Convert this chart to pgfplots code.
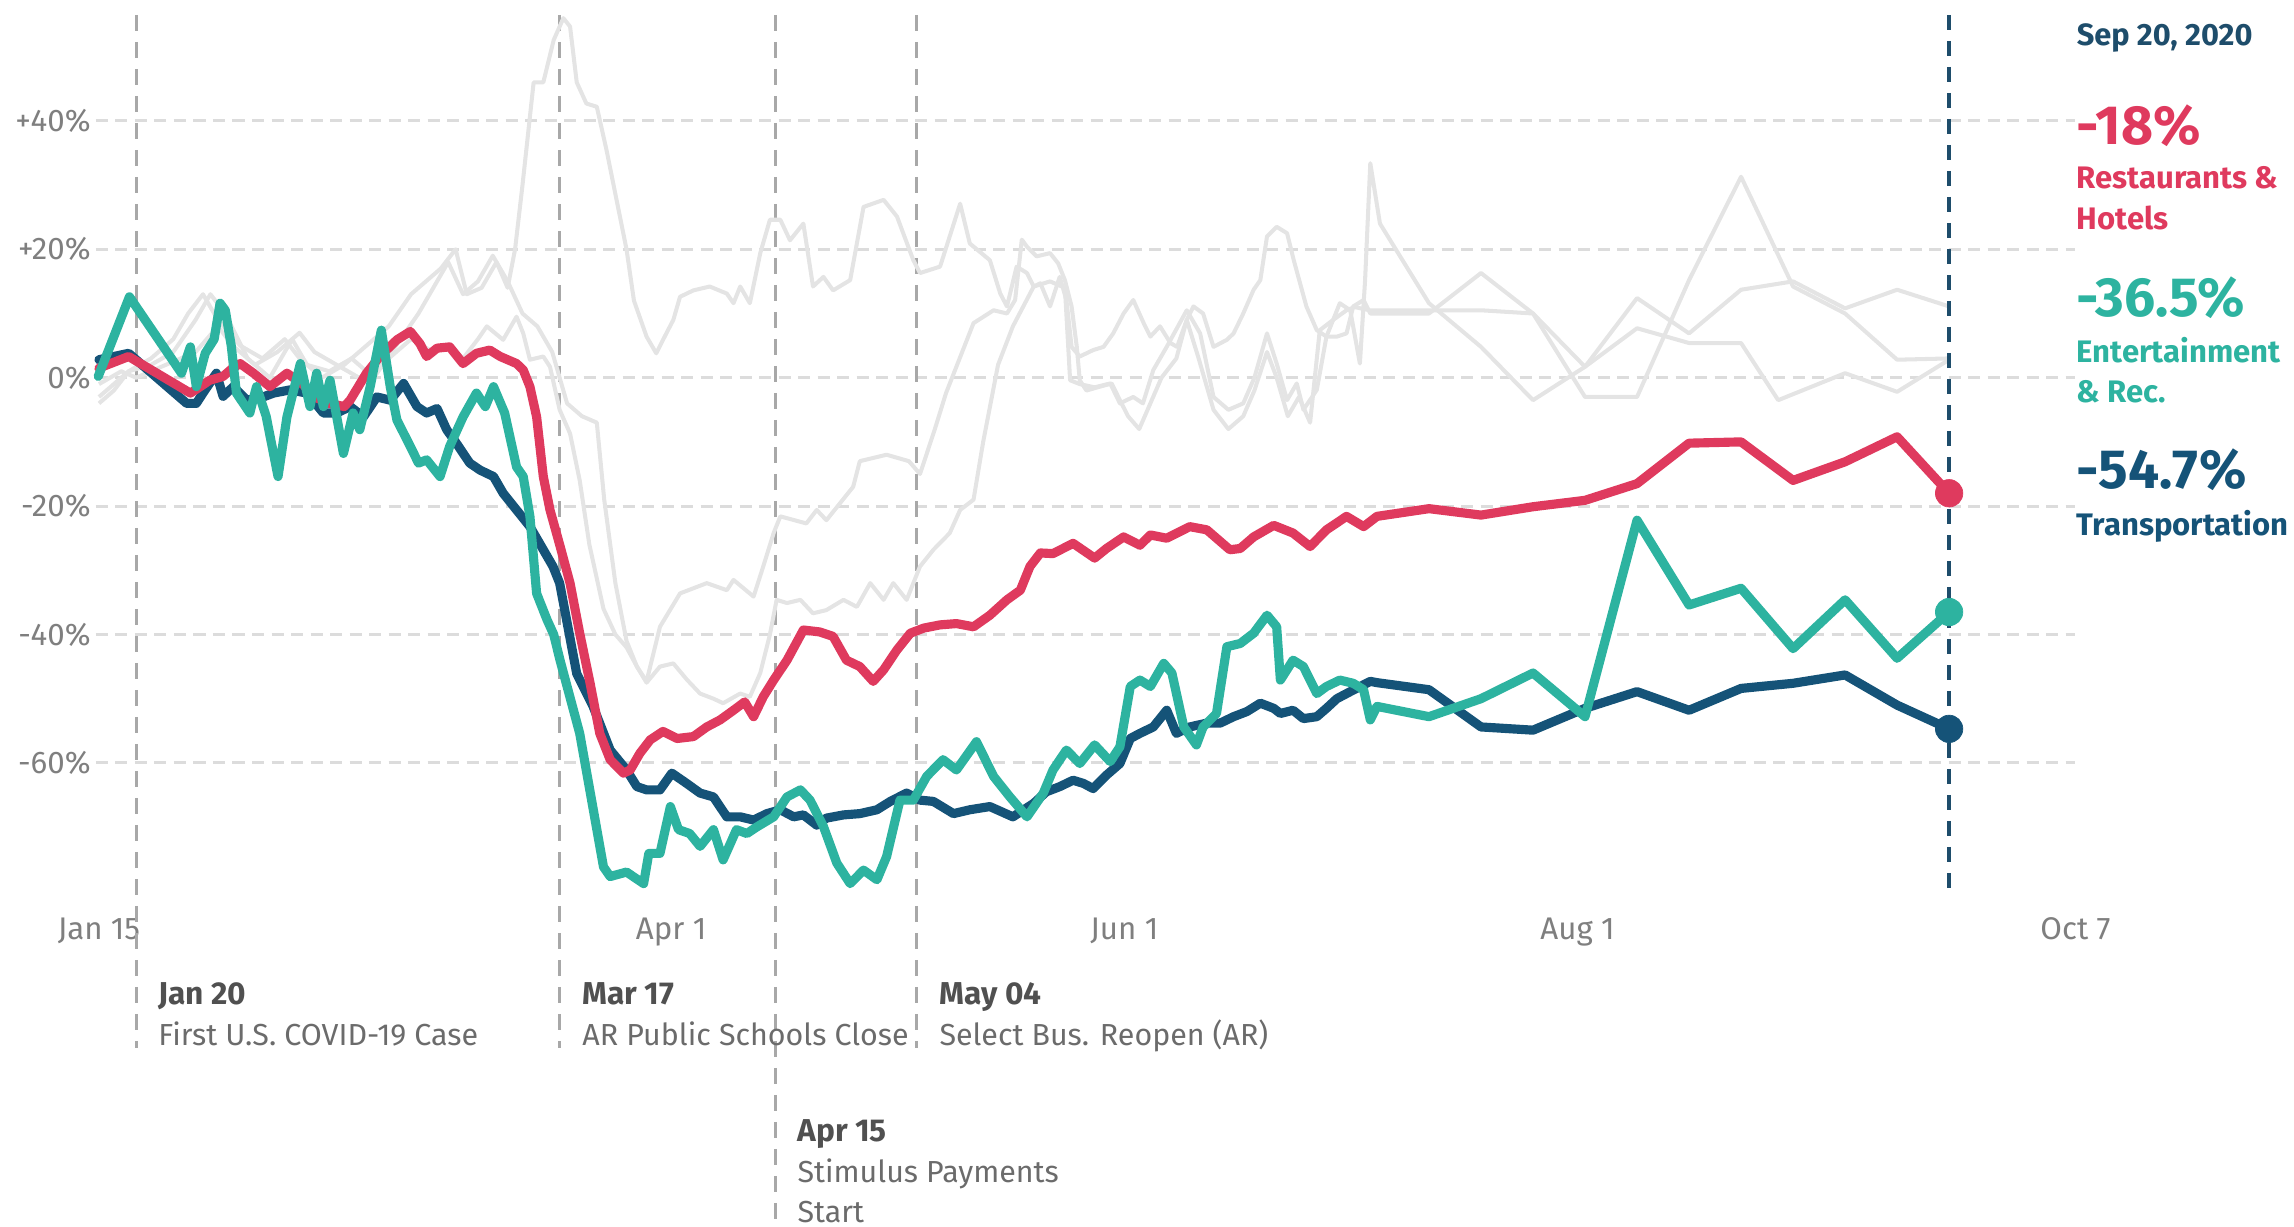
\documentclass[border=0pt]{standalone}
\usepackage{fontspec}
\setmainfont{Fira Sans}
\usepackage{pgfplots}
\pgfplotsset{compat=1.18}
\definecolor{cred}{HTML}{DF3A5E}
\definecolor{cteal}{HTML}{2DB3A0}
\definecolor{cblue}{HTML}{155378}
\definecolor{cgray}{HTML}{E4E4E4}
\definecolor{gridc}{HTML}{DCDCDC}
\definecolor{evc}{HTML}{A8A8A8}
\definecolor{sepc}{HTML}{1E4D6B}
\definecolor{tickc}{HTML}{7F7F7F}
\definecolor{annb}{HTML}{505050}
\definecolor{annt}{HTML}{6B6B6B}
\begin{document}
\begin{tikzpicture}
\path[use as bounding box] (0,0) rectangle (45.88cm,-24.54cm);
\begin{axis}[
  at={(1.92cm,-17.826cm)}, anchor=south west,
  x=0.1486cm, y=0.1284cm,
  xmin=14.6, xmax=281, ymin=-80, ymax=56.5,
  clip=false,
  axis line style={draw=none},
  tick style={draw=none},
  major tick length=0pt,
  xtick={15,92,153,214,281},
  xticklabels={Jan 15,Apr 1,Jun 1,Aug 1,Oct 7},
  ytick={-60,-40,-20,0,20,40},
  yticklabels={-60\%,-40\%,-20\%,0\%,+20\%,+40\%},
  ymajorgrids,
  grid style={gridc, line width=1.6pt, dash pattern=on 0.24cm off 0.15cm},
  xticklabel style={font=\fontsize{17.8}{20}\selectfont, text=tickc, anchor=base, yshift=-0.96cm, inner sep=0pt},
  yticklabel style={font=\fontsize{17.8}{20}\selectfont, text=tickc, anchor=east, xshift=-0.1cm, inner sep=0pt},
  evline/.style={evc, line width=1.7pt, dash pattern=on 0.33cm off 0.21cm},
  gline/.style={cgray, line width=2.3pt, line join=round},
  mline/.style={line width=5.2pt, line join=round, line cap=round},
]
% event lines
\addplot[evline] coordinates {(20,56.5) (20,-104.4)};
\addplot[evline] coordinates {(77,56.5) (77,-104.4)};
\addplot[evline] coordinates {(106,56.5) (106,-132.3)};
\addplot[evline] coordinates {(125,56.5) (125,-104.4)};
% gray context lines
\addplot[gline] coordinates {(15,-3) (17,-1) (19,1) (22,3) (25,6) (27,10) (29,13) (31,9) (34,5) (37,3) (40,6) (42,3) (45,0) (48,2) (51,5) (54,8) (57,13) (59,15) (61,17) (63,20) (64.5,13) (66.5,14) (68.5,18) (70,14) (71,20) (72,30) (73.5,46) (74.8,46) (76.2,52.6) (77.5,56) (78.4,54.7) (79.3,46) (80.6,42.7) (82,42.2) (83.3,35.5) (86,20) (87,12) (88.7,6.4) (90,3.8) (91.4,7) (92.3,9) (93.2,12.6) (95,13.6) (97.2,14.2) (99.5,13.1) (100.4,11.6) (101.3,14.2) (102.6,11.6) (104,19.4) (105.3,24.6) (106.7,24.6) (108,21.4) (109.8,24) (111.1,14.2) (112.5,15.7) (113.8,13.6) (116.1,15.2) (117.9,26.6) (120.6,27.7) (122.4,25.1) (124.6,18.3) (125.5,16.3) (128.2,17.3) (130.9,27.1) (132.2,20.9) (134.9,18.3) (136.3,13.1) (137.2,11.1) (138.5,17.3) (139.9,16.3) (140.8,14.2) (141.7,14.7) (143,11.1) (144.3,15.7) (145.2,12.1) (145.9,4.8) (147,3.3) (148.8,4.3) (150.2,4.8) (151.5,6.9) (152.9,10) (154.2,12.1) (155.6,8.5) (156.5,6.4) (157.8,8) (159.2,5.4) (160.1,4.8) (161.4,9) (162.3,11.1) (163.6,10) (165,4.8) (166.8,5.9) (167.7,6.9) (169,10) (170.4,13.7) (171.3,15.2) (172.2,22) (173.5,23.5) (174.9,22.5) (175.8,18.3) (177.5,11.1) (178.9,7.4) (180.2,6.4) (181.6,6.4) (182.9,6.9) (183.8,11.1) (185.2,12.1) (186.1,10) (187,10) (194,10) (201,16.3) (208,10) (215,1.7) (222,12.4) (229,6.9) (236,13.7) (243,15) (250,10.8) (257,13.7) (264,11.1)};
\addplot[gline] coordinates {(15,-1) (18,1) (20,0) (24,2) (28,4) (31,8) (33,5) (36,2) (39,4) (42,7) (44,4) (47,2) (50,0) (53,2) (55,4) (57,6) (60,4) (62,5) (64,3) (66,6) (67.2,8) (69.4,5.9) (71.2,9.5) (72.1,6.9) (73,2.8) (74.8,3.3) (75.7,1.7) (77,-5) (78.4,-8.7) (79.7,-16) (81,-26) (82.9,-36) (84.5,-40) (86,-42) (87.4,-45) (88.7,-47.5) (90.5,-45) (92.3,-44.5) (94.1,-47) (95.9,-49.2) (97.7,-50) (99,-50.7) (101.3,-49.2) (102.6,-49.7) (104,-46) (105.3,-40) (106.2,-34.6) (107.6,-35.1) (109.4,-34.6) (111.1,-36.7) (112.9,-36.2) (115.2,-34.6) (117,-35.7) (118.8,-32) (120.6,-34.6) (121.9,-32) (123.7,-34.6) (125.5,-29.4) (127.3,-26.8) (129.5,-24.2) (130.9,-20.6) (132.7,-19) (134,-10) (136,2) (138,8) (140.8,14.2) (143,15) (145,14) (145.7,-0.4) (147,-1) (149,-1.5) (151.1,-0.9) (152.4,-4) (154.2,-3) (155.5,-4) (156.9,1.2) (158.7,4.8) (161.4,10.5) (163.2,6.9) (165,-3) (167,-5) (169,-4) (170.5,0) (172.2,6.9) (173.5,2.2) (174.9,-3.5) (176.2,-0.9) (177.1,-5) (178.9,-1.9) (180.2,6.4) (182,11.6) (183.4,10.5) (184.7,2.2) (185.4,15.2) (186.1,33.4) (187.4,24) (194,11.6) (201,4.8) (208,-3.5) (215,1.7) (222,7.7) (229,5.4) (236,5.4) (241,-3.5) (250,0.7) (257,-2.2) (264,2.8)};
\addplot[gline] coordinates {(15,-4) (17,-2) (19,1) (22,2) (25,4) (28,9) (30,13) (32,10) (35,3) (38,0) (41,6) (43,2) (46,1) (49,3) (52,0) (55,5) (58,10) (60,14) (62,18) (64,13) (66,15) (68,19) (70,15) (72,10) (74,8) (76,4) (78,-4) (80,-6) (82,-7) (83,-19) (84.5,-32) (86,-41) (87.4,-45) (88.7,-47.3) (90.5,-38.8) (93.2,-33.6) (96.8,-32) (99.5,-33.1) (100.4,-31.5) (103.1,-34.1) (104.4,-29.4) (105.8,-24.2) (106.7,-21.6) (110.2,-22.7) (111.6,-20.6) (112.9,-22.2) (116.5,-17) (117.4,-13) (121,-12) (124,-13) (125.5,-15) (127.5,-8) (129,-2.4) (132.7,8.5) (135.4,10.5) (137.2,10) (138.3,12.1) (139.2,21.5) (139.9,20.4) (141.2,18.9) (143,19.4) (144.1,17.8) (145,15.2) (145.9,11.1) (146.6,4.8) (147,-0.4) (147.9,-2) (149.7,-1.4) (151.3,-0.9) (152.4,-3.5) (153.5,-6) (155,-8) (156.5,-4) (158,0) (160,3) (161.4,9) (163,3) (165,-5) (167,-8) (169,-6) (170.5,-2) (172.2,4) (173.5,0) (175,-6) (176.5,-3) (178,-7) (179.3,7.4) (181.1,9) (182.9,10.5) (184,11) (186,10.5) (187,10.5) (194,10.5) (201,10.5) (208,10) (215,-3) (222,-3) (229,15.2) (236,31.3) (243,14.2) (250,10) (257,2.8) (264,3)};
% Sep 20 line
\addplot[sepc, line width=2.3pt, dash pattern=on 0.3cm off 0.22cm] coordinates {(264,56.5) (264,-79.7)};
% Transportation
\addplot[mline, cblue] coordinates {(15,2.8) (19,3.8) (26.8,-4) (28.1,-4) (29,-2.4) (30.8,0.7) (31.7,-2.9) (33.1,-1.4) (34.9,-3.5) (37.1,-3) (38.5,-2.4) (40.7,-1.9) (43,-2.4) (45.2,-5.5) (47,-5.5) (48.8,-4.5) (50.6,-6.1) (52.4,-3) (54.2,-3.5) (56,-0.9) (57.8,-4.5) (59.1,-5.5) (60.5,-4.8) (61.8,-8.1) (63.1,-10.2) (64.9,-13.3) (66.3,-14.4) (68.1,-15.4) (69.4,-18) (71.2,-20.6) (73,-23.2) (74.8,-26.8) (76.1,-29.4) (77,-32) (79.3,-46.1) (81.5,-51.2) (83.8,-58) (86,-61.1) (87.4,-63.7) (88.7,-64.2) (90.5,-64.2) (92.1,-61.6) (94.1,-63.2) (95.9,-64.7) (97.7,-65.3) (99.5,-68.4) (101.3,-68.4) (103.1,-68.9) (104.9,-67.9) (106.7,-67.3) (108.5,-68.4) (109.8,-68.1) (111.6,-69.7) (112.9,-68.6) (115.2,-68.1) (117.4,-67.9) (119.7,-67.3) (121.5,-66) (123.7,-64.7) (125.5,-65.8) (127.3,-66) (130,-67.9) (132.2,-67.3) (134.9,-66.8) (138,-68.4) (140.8,-66.3) (142.5,-64.5) (144.3,-63.7) (146.1,-62.7) (147.5,-63.2) (148.8,-64) (150.6,-61.9) (152.4,-60.1) (153.8,-56.2) (155.1,-55.4) (156.9,-54.4) (158.7,-51.8) (160,-55.4) (161.8,-54.4) (164.1,-53.8) (165.9,-53.8) (167.7,-52.8) (169.5,-52) (171.3,-50.7) (173.1,-51.5) (174,-52.3) (175.7,-51.8) (177.1,-53.1) (178.9,-52.8) (180.2,-51.5) (181.6,-50) (183.4,-48.9) (186.1,-47.3) (187,-47.5) (194,-48.6) (201,-54.4) (208,-54.9) (215,-51.5) (222,-48.9) (229,-51.8) (236,-48.4) (243,-47.6) (250,-46.3) (257,-51) (264,-54.7)};
% Restaurants & Hotels
\addplot[mline, cred] coordinates {(15,1.5) (19,3.3) (27.3,-2.4) (28.5,-1.5) (29.9,-0.4) (31.7,0.2) (33,1.5) (34,2.2) (35.8,0.7) (38,-1.4) (40.3,0.7) (42.5,-1.1) (44,-3) (46,-4) (48,-4.5) (48.8,-3.5) (51,0.7) (52.8,3.3) (55.1,5.9) (56.9,7.2) (58.2,5.3) (59.1,3.3) (60.5,4.6) (62.2,4.8) (64,2.2) (65.8,3.8) (67.6,4.3) (69,3.3) (71.2,2.2) (72.1,1.2) (73,-1.4) (73.9,-6.1) (74.8,-15.4) (75.7,-20.6) (77,-26) (78.4,-32) (79.7,-39.8) (81.1,-47.6) (82.4,-55.4) (83.8,-59.5) (85.6,-61.6) (86.5,-61.1) (87.8,-58.5) (89.2,-56.4) (90.9,-55.1) (92.8,-56.2) (95,-55.9) (96.8,-54.4) (98.6,-53.3) (100.4,-51.8) (101.9,-50.5) (103.1,-52.8) (104.4,-49.7) (105.8,-47.1) (107.6,-44) (109.8,-39.3) (112,-39.6) (113.8,-40.3) (115.6,-44) (117.4,-45) (119.2,-47.3) (120.6,-45.5) (122.4,-42.4) (124.2,-39.8) (126,-39) (128.2,-38.5) (130.4,-38.3) (132.7,-38.8) (134.9,-37) (137.2,-34.6) (139,-33.1) (140.3,-29.4) (141.7,-27.3) (143.4,-27.4) (146.1,-25.8) (149,-28.1) (150.6,-26.6) (152.9,-24.8) (155.1,-26.1) (156.5,-24.5) (158.7,-25) (161.8,-23.2) (164.1,-23.7) (167.2,-26.8) (168.6,-26.6) (170.4,-24.8) (173.1,-23) (175.7,-24.2) (178,-26.3) (180.2,-23.7) (182.9,-21.6) (185.2,-23.2) (187,-21.6) (194,-20.4) (201,-21.4) (208,-20.1) (215,-19.1) (222,-16.5) (229,-10.2) (236,-10) (243,-16) (250,-13.1) (257,-9.2) (264,-18)};
% Entertainment & Rec.
\addplot[mline, cteal] coordinates {(14.9,0.2) (19.1,12.6) (26.1,0.7) (27.3,4.8) (28.1,-1.4) (29.3,3.8) (30.5,6) (31.3,11.6) (32,10.5) (32.8,5) (33.5,-2.4) (35.3,-5.5) (36.2,-1.4) (37.5,-6) (39.1,-15.4) (40.3,-6.1) (42.1,2.2) (43.4,-4.5) (44.3,0.7) (45.2,-4.5) (46.1,-0.4) (47.9,-11.8) (49.2,-5.5) (50.1,-8.1) (51.5,-1.4) (53,7.4) (54.2,-1.4) (55.1,-6.6) (56.9,-10.7) (58,-13.3) (59.1,-12.8) (60.9,-15.4) (62.2,-10.7) (64,-6.1) (65.8,-2.4) (67,-4.5) (68.1,-1.4) (69.6,-5.5) (71.2,-13.9) (72.1,-15.4) (73,-21.6) (73.9,-33.6) (75.3,-37.7) (76.2,-40) (77.05,-44) (79.7,-55.4) (82.9,-76.2) (83.8,-77.7) (86,-77) (88.3,-78.8) (89,-74.1) (90.5,-74.1) (91.9,-66.8) (93,-70.4) (94.5,-71) (95.9,-73) (97.7,-70.4) (99,-75.1) (100.8,-70.4) (102.2,-71) (103.5,-70) (105.8,-68.4) (107.6,-65.3) (109.4,-64.2) (110.7,-65.8) (112.5,-69.9) (114.3,-75.6) (116.1,-78.8) (117.9,-76.7) (119.7,-78.2) (121,-74.6) (122.8,-65.8) (124.6,-65.8) (126.4,-62.1) (128.6,-59.5) (130.4,-61.1) (133.1,-56.7) (135.4,-62.1) (137.6,-65.3) (139.9,-68.4) (142.1,-64.7) (143.4,-61.1) (145.2,-58) (147,-60.1) (149,-57.2) (151.1,-59.8) (152.4,-57.5) (153.8,-48.1) (155.1,-47.1) (156.5,-48.1) (158.3,-44.5) (159.4,-46) (161,-54.4) (162.7,-57.2) (163.6,-54.4) (165.4,-52.3) (166.8,-41.9) (168.6,-41.4) (170.4,-39.8) (172.2,-37) (173.5,-38.8) (174,-47.1) (175.7,-44) (177.1,-45) (178.9,-49.2) (180.2,-48.1) (182,-47.1) (183.8,-47.6) (185.2,-48.6) (186.1,-53.3) (187,-51.2) (194,-52.8) (201,-50) (208,-46) (215,-52.8) (222,-22.2) (229,-35.4) (236,-32.8) (243,-42.2) (250,-34.6) (257,-43.7) (264,-36.5)};
% end dots
\addplot[only marks, mark=*, mark size=7.8pt, cblue, mark options={draw=cblue, fill=cblue}] coordinates {(264,-54.7)};
\addplot[only marks, mark=*, mark size=7.8pt, cteal, mark options={draw=cteal, fill=cteal}] coordinates {(264,-36.5)};
\addplot[only marks, mark=*, mark size=7.8pt, cred, mark options={draw=cred, fill=cred}] coordinates {(264,-18)};
\end{axis}
\begin{scope}[x=0.02cm, y=-0.02cm, every node/.style={inner sep=0pt, anchor=base west}]
  \def\annb{\fontsize{18}{21}\selectfont\bfseries\color{annb}}
  \def\annt{\fontsize{17.3}{20}\selectfont\color{annt}}
  \node at (158,1004) {\annb Jan 20};
  \node at (158,1045) {\annt First U.S. COVID-19 Case};
  \node at (582,1004) {\annb Mar 17};
  \node at (582,1045) {\annt AR Public Schools Close};
  \node at (939,1004) {\annb May 04};
  \node at (939,1045) {\annt Select Bus. Reopen (AR)};
  \node at (797,1141) {\annb Apr 15};
  \node at (797,1182) {\annt Stimulus Payments};
  \node at (797,1222) {\annt Start};
  % right block
  \node at (2076,45.6) {\fontsize{17.5}{20}\selectfont\bfseries\color{sepc}Sep 20, 2020};
  \node at (2076,144.5) {\fontsize{31.4}{34}\selectfont\bfseries\color{cred}-18\%};
  \node at (2076,188.5) {\fontsize{17.7}{20}\selectfont\bfseries\color{cred}Restaurants \&};
  \node at (2076,229.5) {\fontsize{17.7}{20}\selectfont\bfseries\color{cred}Hotels};
  \node at (2076,316) {\fontsize{31.4}{34}\selectfont\bfseries\color{cteal}-36.5\%};
  \node at (2076,362.6) {\fontsize{17.7}{20}\selectfont\bfseries\color{cteal}Entertainment};
  \node at (2076,402) {\fontsize{17.7}{20}\selectfont\bfseries\color{cteal}\& Rec.};
  \node at (2076,488.5) {\fontsize{31.4}{34}\selectfont\bfseries\color{cblue}-54.7\%};
  \node at (2076,535) {\fontsize{17.7}{20}\selectfont\bfseries\color{cblue}Transportation};
\end{scope}
\end{tikzpicture}
\end{document}
